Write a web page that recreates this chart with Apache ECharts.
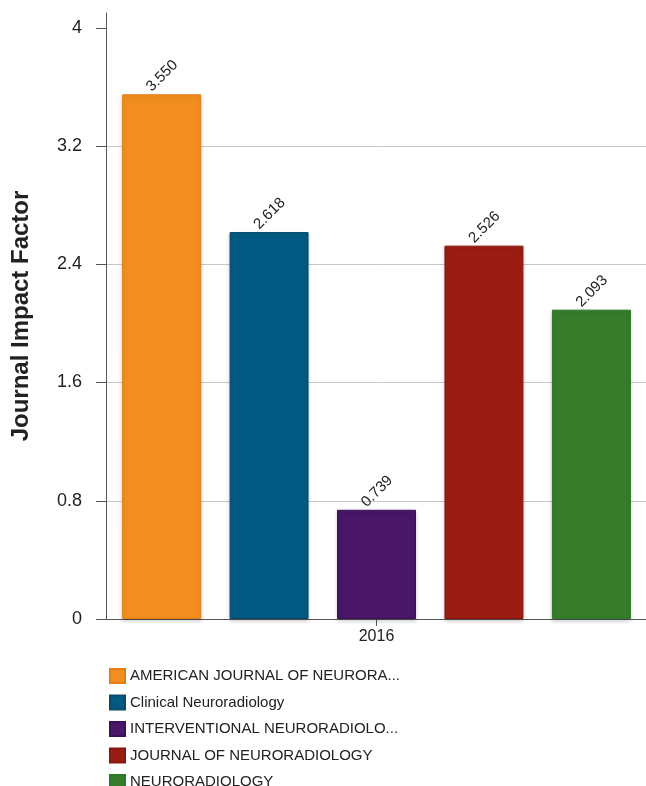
<!DOCTYPE html>
<html>
<head>
<meta charset="utf-8">
<script src="https://cdn.jsdelivr.net/npm/echarts@6/dist/echarts.min.js"></script>
<style>html,body{margin:0;padding:0;background:#fff}#c{width:646px;height:786px}</style>
</head>
<body>
<div id="c"></div>
<script>
const categories = ['2016'];
const journals = ['AMERICAN JOURNAL OF NEURORA...', 'Clinical Neuroradiology', 'INTERVENTIONAL NEURORADIOLO...', 'JOURNAL OF NEURORADIOLOGY', 'NEURORADIOLOGY'];
const values = [3.550, 2.618, 0.739, 2.526, 2.093];
const colors = ['#F28E1F', '#005A84', '#4A1668', '#9B1C12', '#367C2B'];
const borders = ['#E87D10', '#0A4A6C', '#3C1058', '#8A160E', '#2A7A2A'];
const yTicks = [0, 0.8, 1.6, 2.4, 3.2, 4];

const chart = echarts.init(document.getElementById('c'));
const FONT = 'Liberation Sans, Arial, sans-serif';
chart.setOption({
  animation: false,
  color: colors,
  textStyle: { fontFamily: FONT },
  grid: { left: 106, right: -1, top: 13, bottom: 167, containLabel: false, outerBoundsMode: 'none' },
  legend: {
    orient: 'vertical', left: 104, top: 663, height: 140,
    icon: 'rect', itemWidth: 15, itemHeight: 14, itemGap: 10.5,
    textStyle: { fontSize: 15, color: '#222', fontFamily: FONT },
    data: journals
  },
  xAxis: {
    type: 'category', data: categories,
    axisLine: { lineStyle: { color: '#555', width: 1 } },
    axisTick: { show: true, alignWithLabel: true, length: 7, lineStyle: { color: '#555' } },
    axisLabel: { fontSize: 16, color: '#222', margin: 10 }
  },
  yAxis: {
    type: 'value', min: 0, max: 4.1, interval: 0.8,
    name: 'Journal Impact Factor', nameLocation: 'middle', nameGap: 73,
    nameTextStyle: { fontSize: 24, fontWeight: 'bold', color: '#222' },
    axisLine: { show: true, lineStyle: { color: '#555' } },
    axisTick: { show: true, length: 10, lineStyle: { color: '#555' }, customValues: yTicks },
    axisLabel: { fontSize: 18, color: '#222', margin: 24, customValues: yTicks,
      formatter: v => (Math.round(v * 10) / 10).toString() },
    splitLine: { show: true, lineStyle: { color: ['transparent', '#c8c8c8', '#c8c8c8', '#c8c8c8', '#c8c8c8', 'transparent', 'transparent'] } }
  },
  series: journals.map((name, i) => ({
    name: name, type: 'bar',
    data: [values[i]],
    barWidth: 79, barGap: '36%',
    itemStyle: { color: colors[i], borderColor: borders[i], borderWidth: 1,
      shadowColor: 'rgba(0,0,0,0.18)', shadowBlur: 4, shadowOffsetY: 2 },
    label: {
      show: true, position: 'top', rotate: 45, align: 'left', verticalAlign: 'middle',
      distance: 3, offset: [-7.5, -10.5], fontSize: 15, color: '#222',
      formatter: p => p.value.toFixed(3)
    }
  }))
});
</script>
</body>
</html>
